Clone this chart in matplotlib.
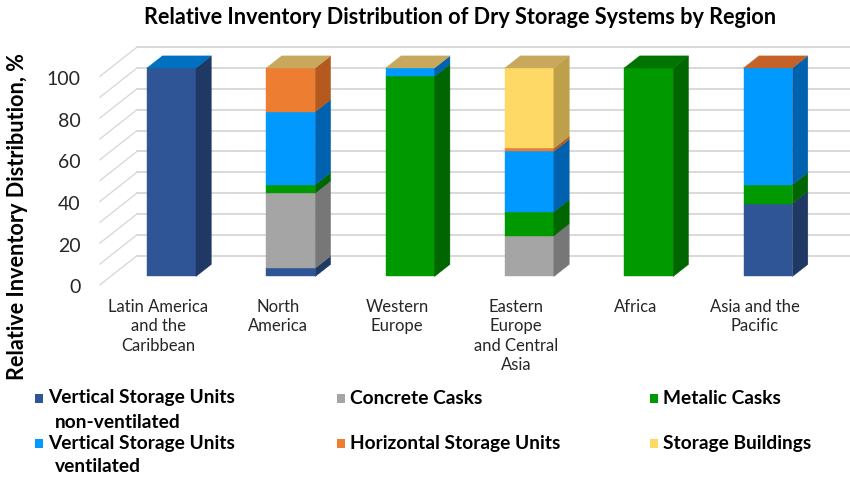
import numpy as np
import matplotlib.pyplot as plt
from matplotlib.patches import Polygon, Rectangle

nan = np.nan

# Share of dry storage inventory per region, % (nan = no entry for that system)
regions = ['Latin America\nand the\nCaribbean', 'North\nAmerica', 'Western\nEurope',
           'Eastern\nEurope\nand Central\nAsia', 'Africa', 'Asia and the\nPacific']
vsu_nonvent = [100, 4, nan, nan, nan, 35]
concrete = [nan, 36, nan, 19.5, nan, nan]
metalic = [nan, 4, 96, 11.5, 100, 9]
vsu_vent = [0, 35, 4, 29, nan, 56]
horizontal = [nan, 21, nan, 1.5, nan, 0]
storage = [nan, 0, 0, 38.5, nan, nan]

series_labels = ['Vertical Storage Units\nnon-ventilated', 'Concrete Casks', 'Metalic Casks',
                 'Vertical Storage Units\nventilated', 'Horizontal Storage Units', 'Storage Buildings']
yticks = [0, 20, 40, 60, 80, 100]

# front / side / top shades of each series
front_colors = ['#2F5597', '#A5A5A5', '#009900', '#0099FF', '#ED7D31', '#FFD966']
side_colors = ['#1F3864', '#777777', '#006600', '#0062AE', '#B45A1E', '#BFA04A']
top_colors = ['#3A66B0', '#BDBDBD', '#007400', '#0070C0', '#C4622A', '#C8A85C']

plt.rcParams['font.family'] = ['Lato', 'DejaVu Sans']

fig = plt.figure(figsize=(8.5, 4.79), dpi=100)
ax = fig.add_axes([0, 0, 1, 1])
ax.set_xlim(-1.4376, 5.6873)
ax.set_ylim(-97.12, 132.61)
ax.axis('off')

bar_w = 0.41
depth = 5.8      # depth of a column, in value units
skew = 0.0222    # sideways shift per unit of depth
dx = depth * skew

# back wall gridlines and side wall
wall_front, wall_back = -4, 10
x_wall_front = -0.60
x_wall_back = x_wall_front + (wall_back - wall_front) * skew
for v in range(0, 101, 10):
    ax.plot([x_wall_back, 5.69], [v + wall_back] * 2, color='#D9D9D9', lw=1.4, zorder=1)
    ax.plot([x_wall_front, x_wall_back], [v + wall_front, v + wall_back],
            color='#D9D9D9', lw=1.0, zorder=1)
for v in yticks:
    ax.text(-0.76, v - 5.5, str(v), ha='right', va='center', fontsize=14, color='#262626')

# stacked 3d columns
data = np.array([vsu_nonvent, concrete, metalic, vsu_vent, horizontal, storage], dtype=float)
for i in range(len(regions)):
    x0, x1 = i - bar_w / 2, i + bar_w / 2
    base = 0
    last = 0
    for s in range(len(data)):
        h = data[s, i]
        if np.isnan(h):
            continue
        last = s
        if h > 0:
            ax.add_patch(Rectangle((x0, base), bar_w, h, fc=front_colors[s],
                                   ec=front_colors[s], lw=0.3, zorder=3))
            ax.add_patch(Polygon([(x1, base), (x1 + dx, base + depth),
                                  (x1 + dx, base + h + depth), (x1, base + h)],
                                 fc=side_colors[s], ec=side_colors[s], lw=0.3, zorder=3))
        base += h
    ax.add_patch(Polygon([(x0, base), (x1, base), (x1 + dx, base + depth), (x0 + dx, base + depth)],
                         fc=top_colors[last], ec=top_colors[last], lw=0.3, zorder=3))
    ax.text(i - 0.11, -10.8, regions[i], ha='center', va='top', fontsize=12,
            color='#262626', linespacing=1.25)

fig.text(460 / 850, 1 - 18 / 479, 'Relative Inventory Distribution of Dry Storage Systems by Region',
         ha='center', va='center', fontsize=15.6, fontweight='bold')
fig.text(18 / 850, 1 - 217 / 479, 'Relative Inventory Distribution, %', rotation=90,
         ha='center', va='center', fontsize=15.6, fontweight='bold')

# legend, two rows of three
col_x = [35, 337, 650]
row_y = [398, 443]
for k, label in enumerate(series_labels):
    r, c = divmod(k, 3)
    px, py = col_x[c], row_y[r]
    fig.patches.append(Rectangle((px / 850, 1 - (py + 4.5) / 479), 8 / 850, 9 / 479,
                                 transform=fig.transFigure, fc=front_colors[k], lw=0))
    lines = label.split('\n')
    fig.text((px + 13) / 850, 1 - py / 479, lines[0], ha='left', va='center',
             fontsize=13.8, fontweight='bold')
    for j, extra in enumerate(lines[1:]):
        fig.text((px + 20) / 850, 1 - (py + 24 * (j + 1)) / 479, extra, ha='left', va='center',
                 fontsize=13.8, fontweight='bold')

fig.savefig('out.png', dpi=100)
